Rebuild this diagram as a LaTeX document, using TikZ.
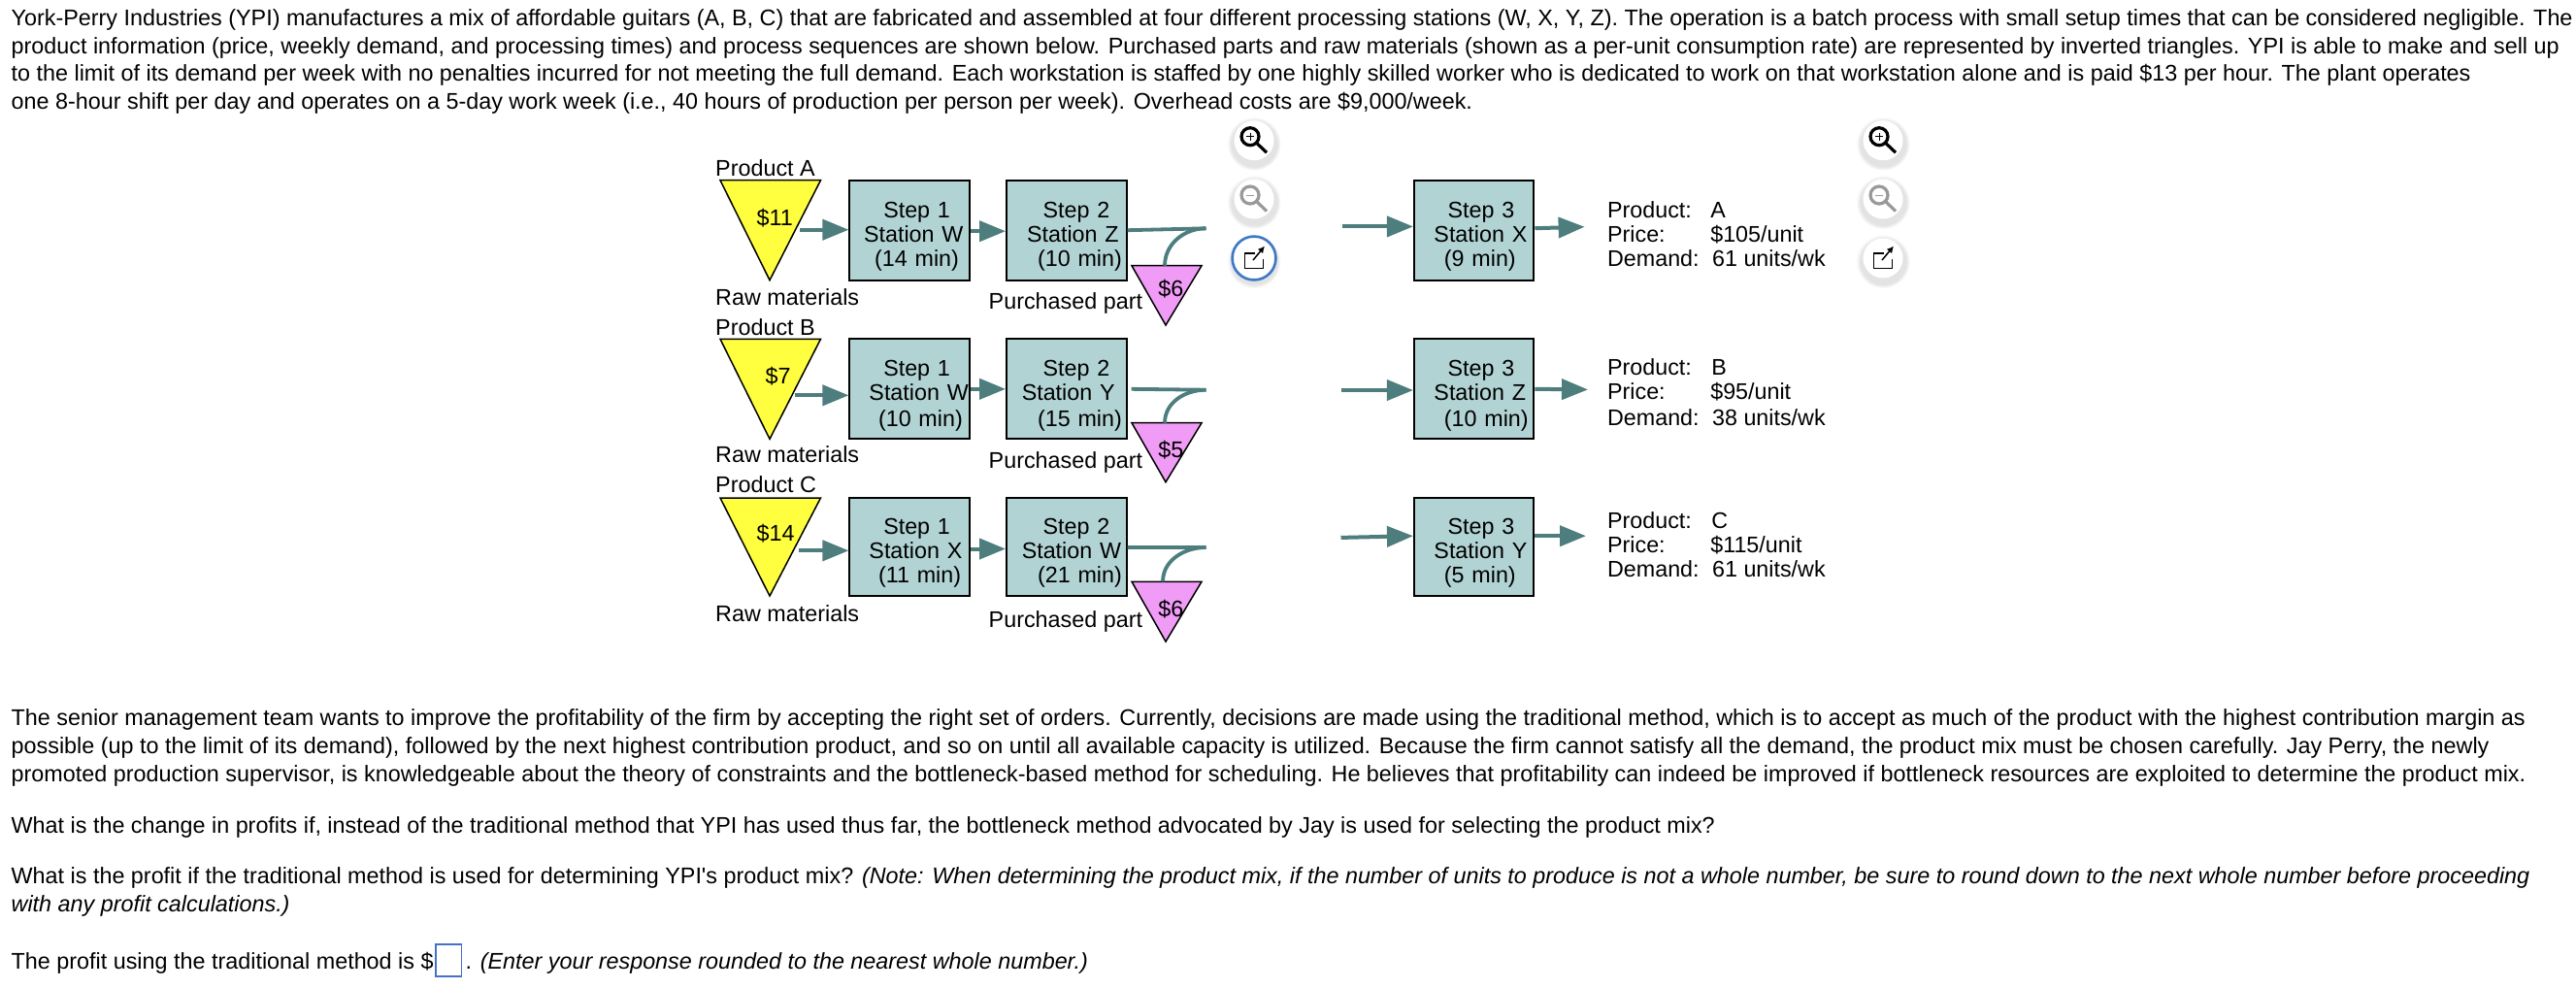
\documentclass[tikz,border=0pt]{standalone}
\usepackage{fontspec}
\setmainfont{Liberation Sans}
\newfontfamily\plainfont{Liberation Sans}
\usetikzlibrary{shapes.geometric,arrows.meta,shadows,positioning,calc}

\begin{document}
\begin{tikzpicture}[
    txtline/.style={anchor=base west, inner sep=0pt, font=\fontsize{6.645}{7.2}\selectfont},
    station/.style={rectangle, draw=black, fill=stationfill, line width=0.02cm, minimum width=1.235cm, minimum height=1.03cm, text width=1.235cm, align=left, inner sep=0pt, font=\fontsize{6.63}{7.1}\selectfont, execute at begin node={\rule{0pt}{0.293cm}}},
    rawtri/.style={draw=black, fill=rawfill, line width=0.015cm},
    parttri/.style={draw=black, fill=partfill, line width=0.015cm},
    info/.style={anchor=west, inner sep=0pt, align=left, font=\fontsize{6.63}{7.2}\selectfont},
    flow/.style={draw=flowline, line width=0.04cm, -{Triangle[length=0.27cm,width=0.21cm]}},
    joinline/.style={draw=flowline, line width=0.038cm},
    iconbg/.style={circle, fill=white, minimum size=0.41cm, inner sep=0pt, circular drop shadow={shadow xshift=0pt, shadow yshift=-0.025cm, shadow scale=1.35, opacity=0.22}},
    lens/.style={line width=0.032cm, #1},
    linkicon/.style={line width=0.015cm, black}
]
\definecolor{stationfill}{HTML}{B2D3D4}
\definecolor{rawfill}{HTML}{FFFF40}
\definecolor{partfill}{HTML}{F09CF6}
\definecolor{flowline}{HTML}{4E7D7E}
\definecolor{answerblue}{HTML}{4472C4}
\definecolor{ringblue}{HTML}{3A78C8}
\useasboundingbox (0,0) rectangle (26.54,-10.18);

% Intro text
\node[txtline] (intro1) at (0.11,-0.26) {York-Perry Industries (YPI) manufactures a mix of affordable guitars (A, B, C) that are fabricated and assembled at four different processing stations (W, X, Y, Z). The operation is a batch process with small setup times that can be considered negligible. The};
\node[txtline] (intro2) at (0.11,-0.55) {product information (price, weekly demand, and processing times) and process sequences are shown below. Purchased parts and raw materials (shown as a per-unit consumption rate) are represented by inverted triangles. YPI is able to make and sell up};
\node[txtline] (intro3) at (0.11,-0.833) {to the limit of its demand per week with no penalties incurred for not meeting the full demand. Each workstation is staffed by one highly skilled worker who is dedicated to work on that workstation alone and is paid \$13 per hour. The plant operates};
\node[txtline] (intro4) at (0.11,-1.127) {one 8-hour shift per day and operates on a 5-day work week (i.e., 40 hours of production per person per week). Overhead costs are \$9,000/week.};

% Product A
\node[txtline] (aname) at (7.365,-1.81) {Product A};
\draw[rawtri] (7.42,-1.857) -- (8.455,-1.857) -- (7.93,-2.887) -- cycle;
\node[txtline] (acost) at (7.79,-2.327) {\$11};
\node[txtline] (arawl) at (7.365,-3.14) {Raw materials};
\node[station] (a1) at (9.372,-2.372) {\hspace*{0.348cm}Step 1\\\hspace*{0.146cm}Station W\\\hspace*{0.257cm}(14 min)};
\node[station] (a2) at (10.988,-2.372) {\hspace*{0.375cm}Step 2\\\hspace*{0.21cm}Station Z\\\hspace*{0.32cm}(10 min)};
\node[station] (a3) at (15.187,-2.372) {\hspace*{0.346cm}Step 3\\\hspace*{0.205cm}Station X\\\hspace*{0.31cm}(9 min)};
\draw[parttri] (11.66,-2.737) -- (12.38,-2.737) -- (12.01,-3.35) -- cycle;
\coordinate (apart) at (12.0,-2.737);
\node[txtline] (acost2) at (11.927,-3.05) {\$6};
\node[txtline] (apartl) at (10.18,-3.18) {Purchased part};
\node[info] (ainfo) at (16.554,-2.41) {\makebox[1.062cm][l]{Product:}A\\\makebox[1.062cm][l]{Price:}\$105/unit\\\makebox[1.08cm][l]{Demand:}61 units/wk};

% Product B
\node[txtline] (bname) at (7.365,-3.45) {Product B};
\draw[rawtri] (7.42,-3.493) -- (8.455,-3.493) -- (7.93,-4.523) -- cycle;
\node[txtline] (bcost) at (7.878,-3.957) {\$7};
\node[txtline] (brawl) at (7.365,-4.767) {Raw materials};
\node[station] (b1) at (9.372,-4.008) {\hspace*{0.348cm}Step 1\\\hspace*{0.2cm}Station W\\[0.02cm]\hspace*{0.296cm}(10 min)};
\node[station] (b2) at (10.988,-4.008) {\hspace*{0.375cm}Step 2\\\hspace*{0.157cm}Station Y\\[0.02cm]\hspace*{0.32cm}(15 min)};
\node[station] (b3) at (15.187,-4.008) {\hspace*{0.346cm}Step 3\\\hspace*{0.205cm}Station Z\\[0.02cm]\hspace*{0.31cm}(10 min)};
\draw[parttri] (11.66,-4.357) -- (12.38,-4.357) -- (12.01,-4.967) -- cycle;
\coordinate (bpart) at (12.0,-4.357);
\node[txtline] (bcost2) at (11.927,-4.717) {\$5};
\node[txtline] (bpartl) at (10.18,-4.827) {Purchased part};
\node[info] (binfo) at (16.554,-4.04) {\makebox[1.072cm][l]{Product:}B\\\makebox[1.062cm][l]{Price:}\$95/unit\\[0.01cm]\makebox[1.08cm][l]{Demand:}38 units/wk};

% Product C
\node[txtline] (cname) at (7.365,-5.077) {Product C};
\draw[rawtri] (7.42,-5.13) -- (8.455,-5.13) -- (7.93,-6.14) -- cycle;
\node[txtline] (ccost) at (7.79,-5.577) {\$14};
\node[txtline] (crawl) at (7.365,-6.407) {Raw materials};
\node[station, minimum height=1.01cm] (c1) at (9.372,-5.635) {\hspace*{0.348cm}Step 1\\\hspace*{0.2cm}Station X\\\hspace*{0.296cm}(11 min)};
\node[station, minimum height=1.01cm] (c2) at (10.988,-5.635) {\hspace*{0.375cm}Step 2\\\hspace*{0.157cm}Station W\\\hspace*{0.32cm}(21 min)};
\node[station, minimum height=1.01cm] (c3) at (15.187,-5.635) {\hspace*{0.346cm}Step 3\\\hspace*{0.205cm}Station Y\\\hspace*{0.31cm}(5 min)};
\draw[parttri] (11.66,-5.993) -- (12.38,-5.993) -- (12.01,-6.61) -- cycle;
\coordinate (cpart) at (11.98,-5.993);
\node[txtline] (ccost2) at (11.927,-6.35) {\$6};
\node[txtline] (cpartl) at (10.18,-6.46) {Purchased part};
\node[info] (cinfo) at (16.554,-5.61) {\makebox[1.072cm][l]{Product:}C\\\makebox[1.062cm][l]{Price:}\$115/unit\\\makebox[1.08cm][l]{Demand:}61 units/wk};

% Free ends
\coordinate (aout) at (8.24,-2.367);
\coordinate (bout) at (8.186,-4.073);
\coordinate (cout) at (8.226,-5.673);
\coordinate (ajoin) at (12.425,-2.353);
\coordinate (bjoin) at (12.425,-4.017);
\coordinate (cjoin) at (12.425,-5.64);
\coordinate (ain) at (13.83,-2.334);
\coordinate (bin) at (13.815,-4.02);
\coordinate (cin) at (13.815,-5.539);
\coordinate (adone) at (16.326,-2.337);
\coordinate (bdone) at (16.36,-4.014);
\coordinate (cdone) at (16.34,-5.522);

% Flows
\draw[flow] (aout) -- (aout -| a1.west);
\draw[flow] (bout) -- (bout -| b1.west);
\draw[flow] (cout) -- (cout -| c1.west);
\draw[flow] ([yshift=-0.01cm]a1.east) -- ([yshift=-0.01cm]a2.west);
\draw[flow] (b1.east) -- (b2.west);
\draw[flow] ([yshift=-0.02cm]c1.east) -- ([yshift=-0.02cm]c2.west);
\draw[joinline] (a2.east) -- (ajoin);
\draw[joinline] ([xshift=0.04cm]b2.east) -- (bjoin);
\draw[joinline] ([yshift=-0.005cm]c2.east) -- (cjoin);
\draw[joinline] (apart) to[out=90,in=180] (ajoin);
\draw[joinline] (bpart) to[out=90,in=180] (bjoin);
\draw[joinline] (cpart) to[out=90,in=180] (cjoin);
\draw[flow] (ain) -- (ain -| a3.west);
\draw[flow] (bin) -- (bin -| b3.west);
\draw[flow] (cin) -- (cdone -| c3.west);
\draw[flow] ([yshift=0.02cm]a3.east) -- (adone);
\draw[flow] (b3.east) -- (bdone);
\draw[flow] (cdone -| c3.east) -- (cdone);

% Zoom and link buttons
\foreach \nm/\ix in {l/12.92,r/19.40} {
  \node[iconbg] (\nm zin) at (\ix,-1.447) {};
  \node[iconbg] (\nm zout) at (\ix,-2.05) {};
  \node[iconbg] (\nm link) at (\ix,-2.66) {};
  \draw[lens=black] ($(\nm zin)+(-0.04,0.04)$) circle (0.09);
  \draw[lens=black] ($(\nm zin)+(0.025,-0.025)$) -- ($(\nm zin)+(0.13,-0.125)$);
  \draw[black, line width=0.01cm] ($(\nm zin)+(-0.08,0.04)$) -- ($(\nm zin)+(0,0.04)$) ($(\nm zin)+(-0.04,0)$) -- ($(\nm zin)+(-0.04,0.08)$);
  \draw[lens=gray!80] ($(\nm zout)+(-0.04,0.04)$) circle (0.09);
  \draw[lens=gray!80] ($(\nm zout)+(0.025,-0.025)$) -- ($(\nm zout)+(0.13,-0.125)$);
  \draw[gray!80, line width=0.01cm] ($(\nm zout)+(-0.08,0.04)$) -- ($(\nm zout)+(0,0.04)$);
  \draw[linkicon] ($(\nm link)+(0.01,0.05)$) -- ($(\nm link)+(-0.095,0.05)$) -- ($(\nm link)+(-0.095,-0.105)$) -- ($(\nm link)+(0.095,-0.105)$) -- ($(\nm link)+(0.095,-0.01)$);
  \draw[linkicon, -{Latex[length=0.07cm,width=0.07cm]}] ($(\nm link)+(-0.01,-0.02)$) -- ($(\nm link)+(0.11,0.125)$);
}
\node[circle, draw=ringblue, line width=0.025cm, minimum size=0.45cm, inner sep=0pt] (lring) at (llink) {};

% Closing text
\node[txtline] (para1) at (0.11,-7.477) {The senior management team wants to improve the profitability of the firm by accepting the right set of orders. Currently, decisions are made using the traditional method, which is to accept as much of the product with the highest contribution margin as};
\node[txtline] (para2) at (0.11,-7.767) {possible (up to the limit of its demand), followed by the next highest contribution product, and so on until all available capacity is utilized. Because the firm cannot satisfy all the demand, the product mix must be chosen carefully. Jay Perry, the newly};
\node[txtline] (para3) at (0.11,-8.057) {promoted production supervisor, is knowledgeable about the theory of constraints and the bottleneck-based method for scheduling. He believes that profitability can indeed be improved if bottleneck resources are exploited to determine the product mix.};
\node[txtline] (ask1) at (0.11,-8.583) {What is the change in profits if, instead of the traditional method that YPI has used thus far, the bottleneck method advocated by Jay is used for selecting the product mix?};
\node[txtline] (ask2) at (0.11,-9.10) {What is the profit if the traditional method is used for determining YPI{\plainfont'}s product mix? \textit{(Note: When determining the product mix, if the number of units to produce is not a whole number, be sure to round down to the next whole number before proceeding}};
\node[txtline] (ask3) at (0.11,-9.39) {\textit{with any profit calculations.)}};
\node[txtline] (resp) at (0.11,-9.98) {The profit using the traditional method is \$};
\node[draw=answerblue, line width=0.015cm, minimum width=0.265cm, minimum height=0.33cm, inner sep=0pt] (answer) at (4.622,-9.895) {};
\node[txtline] (note) at (4.79,-9.98) {. \textit{(Enter your response rounded to the nearest whole number.)}};
\end{tikzpicture}
\end{document}
